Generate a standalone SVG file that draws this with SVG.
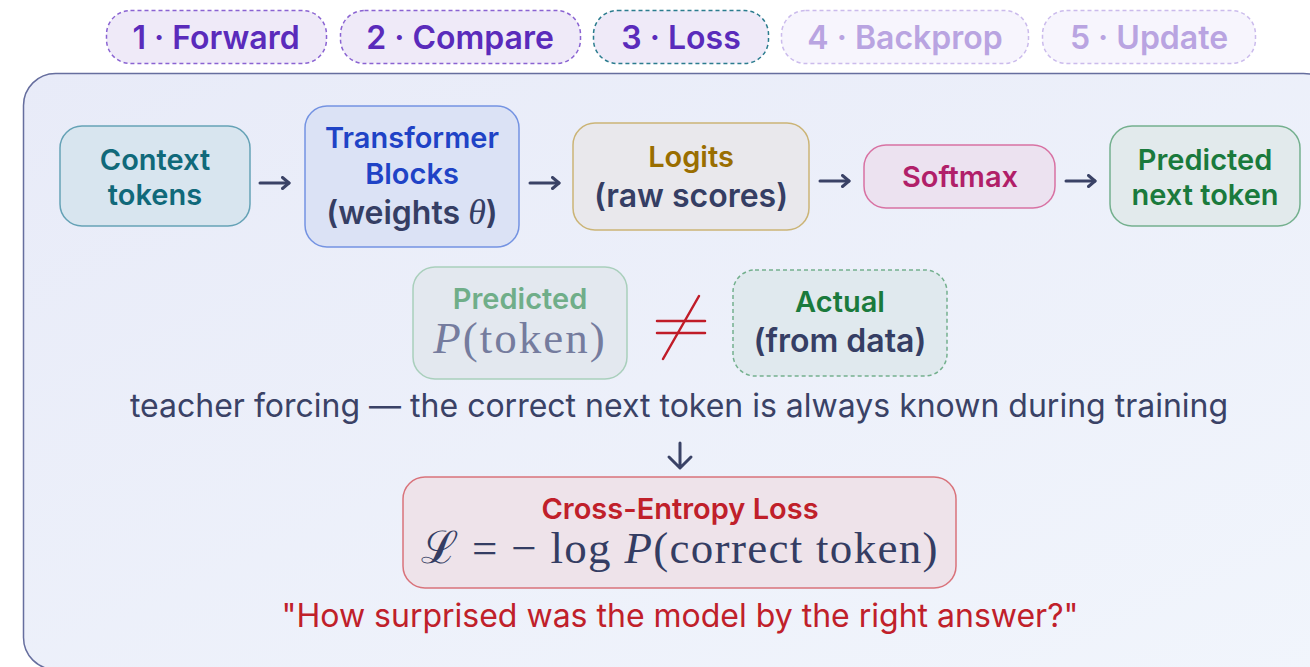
<svg xmlns="http://www.w3.org/2000/svg" width="1310" height="667" viewBox="0 0 1310 667">
  <defs>
    <linearGradient id="panelFill" x1="0" y1="0" x2="1" y2="1">
      <stop offset="0" stop-color="#e8ebf8"/>
      <stop offset="1" stop-color="#f1f5fc"/>
    </linearGradient>
    <marker id="head" viewBox="0 0 10 14" refX="8" refY="7" markerWidth="10" markerHeight="14" markerUnits="userSpaceOnUse" orient="auto">
      <path d="M1.5 1.5 L8 7 L1.5 12.5" fill="none" stroke="#3a4266" stroke-width="3" stroke-linecap="round" stroke-linejoin="round"/>
    </marker>
  </defs>
  <style>
    text { font-family: Inter, "Noto Sans", "Liberation Sans", sans-serif; text-anchor: middle; }
    .tab rect { stroke-width: 1.5; stroke-dasharray: 4 3; }
    .tab text { font-size: 32px; font-weight: 600; }
    .on rect { fill: #efeaf8; stroke: #8a63d2; }
    .on text { fill: #5a2bbb; }
    .cur rect { fill: #efeaf8; stroke: #2b7c8e; }
    .off rect { fill: #f7f5fd; stroke: #cbbbec; }
    .off text { fill: #b9a4e1; }
    .node rect { stroke-width: 1.5; }
    .lbl { font-size: 29px; font-weight: 600; }
    .sub { font-size: 32px; font-weight: 600; fill: #353e64; }
    .math { font-family: "Liberation Serif", "DejaVu Serif", serif; font-weight: 400; }
    .note { font-size: 32px; font-weight: 400; }
    .conn path { fill: none; stroke: #3a4266; stroke-width: 3; stroke-linecap: round; stroke-linejoin: round; }
  </style>

  <rect width="1310" height="667" fill="#ffffff"/>

  <!-- step tabs -->
  <g id="tab-forward" class="tab on">
    <rect x="106.5" y="10.5" width="220" height="53" rx="24"/>
    <text x="216" y="49">1 · Forward</text>
  </g>
  <g id="tab-compare" class="tab on">
    <rect x="340.5" y="10.5" width="240" height="53" rx="24"/>
    <text x="460" y="49">2 · Compare</text>
  </g>
  <g id="tab-loss" class="tab cur">
    <rect x="593.5" y="10.5" width="175" height="53" rx="24"/>
    <text x="681" y="49" fill="#5a2bbb">3 · Loss</text>
  </g>
  <g id="tab-backprop" class="tab off">
    <rect x="781.5" y="10.5" width="247" height="53" rx="24"/>
    <text x="905" y="49">4 · Backprop</text>
  </g>
  <g id="tab-update" class="tab off">
    <rect x="1042.5" y="10.5" width="213" height="53" rx="24"/>
    <text x="1149" y="49">5 · Update</text>
  </g>

  <!-- main panel -->
  <rect id="panel" x="23.5" y="73.5" width="1312" height="596" rx="32" fill="url(#panelFill)" stroke="#666e9e" stroke-width="1.5"/>

  <!-- forward pipeline -->
  <g id="context-tokens" class="node">
    <rect x="60" y="126" width="190" height="100" rx="22" fill="#d8e5ef" stroke="#65a2b6"/>
    <text class="lbl" x="155" y="170" fill="#10697a">Context</text>
    <text class="lbl" x="155" y="205" fill="#10697a">tokens</text>
  </g>
  <g id="transformer-blocks" class="node">
    <rect x="305" y="106" width="214" height="141" rx="22" fill="#dbe2f5" stroke="#7493e2"/>
    <text class="lbl" x="412" y="148" fill="#1f43c6">Transformer</text>
    <text class="lbl" x="412" y="184" fill="#1f43c6">Blocks</text>
    <text class="sub" x="412" y="224">(weights <tspan class="math" font-style="italic" font-size="36">θ</tspan>)</text>
  </g>
  <g id="logits" class="node">
    <rect x="573" y="123" width="236" height="107" rx="22" fill="#e9e8ec" stroke="#cbb476"/>
    <text class="lbl" x="691" y="167" fill="#9a6e00">Logits</text>
    <text class="sub" x="691" y="207">(raw scores)</text>
  </g>
  <g id="softmax" class="node">
    <rect x="864" y="145" width="191" height="63" rx="22" fill="#ece2f0" stroke="#d872a3"/>
    <text class="lbl" x="960" y="187" fill="#b11f69">Softmax</text>
  </g>
  <g id="predicted-next" class="node">
    <rect x="1110" y="126" width="190" height="100" rx="22" fill="#e2eaec" stroke="#74b08e"/>
    <text class="lbl" x="1205" y="170" fill="#1a7a3c">Predicted</text>
    <text class="lbl" x="1205" y="205" fill="#1a7a3c">next token</text>
  </g>

  <!-- comparison -->
  <g id="predicted-prob" class="node">
    <rect x="413" y="267" width="214" height="112" rx="22" fill="#e3e8ef" stroke="#a9cfbc"/>
    <text class="lbl" x="520" y="309" fill="#70ae89">Predicted</text>
    <text class="math" x="520" y="353" font-size="45" letter-spacing="2" fill="#757c9e"><tspan font-style="italic">P</tspan>(token)</text>
  </g>
  <g id="not-equal" fill="none" stroke="#c01c28" stroke-width="2.5" stroke-linecap="round">
    <line x1="657" y1="321" x2="705" y2="321"/>
    <line x1="657" y1="333" x2="705" y2="333"/>
    <line x1="699" y1="296" x2="663" y2="359"/>
  </g>
  <g id="actual" class="node">
    <rect x="733" y="270" width="214" height="106" rx="22" fill="#e0e9ee" stroke="#74b08e" stroke-dasharray="4 3"/>
    <text class="lbl" x="840" y="312" fill="#1a7a3c">Actual</text>
    <text class="sub" x="840" y="352">(from data)</text>
  </g>

  <text id="teacher-note" class="note" x="679" y="417" fill="#3a4266">teacher forcing — the correct next token is always known during training</text>

  <!-- loss -->
  <g id="cross-entropy" class="node">
    <rect x="403" y="477" width="553" height="111" rx="22" fill="#eee3ea" stroke="#d9737b"/>
    <text class="lbl" x="680" y="519" fill="#c0202a">Cross-Entropy Loss</text>
    <text class="math" x="680" y="563" font-size="45" letter-spacing="1.3" fill="#343d63">ℒ = − log <tspan font-style="italic">P</tspan>(correct token)</text>
  </g>

  <text id="loss-note" class="note" x="680" y="627" fill="#c0202a">"How surprised was the model by the right answer?"</text>

  <!-- connectors -->
  <g id="connectors" class="conn">
    <path d="M260 183 H289" marker-end="url(#head)"/>
    <path d="M530 183 H559" marker-end="url(#head)"/>
    <path d="M820 181 H849" marker-end="url(#head)"/>
    <path d="M1066 181 H1095" marker-end="url(#head)"/>
    <path d="M680 443 V467 M669 457 L680 468 L691 457"/>
  </g>
</svg>
